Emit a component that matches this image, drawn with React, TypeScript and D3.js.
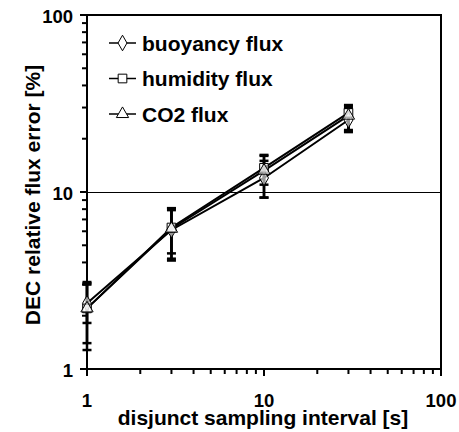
import React, { useEffect, useRef } from 'react';
import * as d3 from 'd3';

// sampling intervals [s]
const intervals = [1, 3, 10, 30];

const seriesNames = ['buoyancy flux', 'humidity flux', 'CO2 flux'];
const buoyancy = [2.35, 6.1, 12.0, 25.5];
const humidity = [2.2, 6.3, 13.7, 28.0];
const co2 = [2.2, 6.2, 13.2, 27.0];

// error bar bounds
const buoyancyLow = [1.82, 4.5, 9.3, 22.4];
const buoyancyHigh = [3.0, 7.9, 15.0, 29.8];
const humidityLow = [1.4, 4.2, 11.0, 21.8];
const humidityHigh = [3.05, 8.1, 16.2, 31.0];
const co2Low = [1.28, 4.1, 9.3, 22.0];
const co2High = [3.1, 8.1, 16.0, 30.5];

const xTicks = [1, 10, 100];
const yTicks = [1, 10, 100];

export default function App() {
  const ref = useRef<SVGSVGElement>(null);

  useEffect(() => {
    if (!ref.current) return;
    const svg = d3.select(ref.current);
    svg.selectAll('*').remove();

    const left = 87, right = 441, top = 15, bottom = 369;
    const x = d3.scaleLog().domain([1, 100]).range([left, right]);
    const y = d3.scaleLog().domain([1, 100]).range([bottom, top]);
    const font = "Arial, 'Liberation Sans', sans-serif";

    const series = [
      { name: seriesNames[0], values: buoyancy, low: buoyancyLow, high: buoyancyHigh, shape: d3.symbolDiamond, size: 70 },
      { name: seriesNames[1], values: humidity, low: humidityLow, high: humidityHigh, shape: d3.symbolSquare, size: 75 },
      { name: seriesNames[2], values: co2, low: co2Low, high: co2High, shape: d3.symbolTriangle, size: 65 },
    ];

    // frame top/right
    svg.append('path')
      .attr('d', `M${left},${top}H${right}V${bottom}`)
      .attr('fill', 'none').attr('stroke', '#000').attr('stroke-width', 2);

    // reference line at 10 %
    svg.append('line')
      .attr('x1', left).attr('x2', right)
      .attr('y1', Math.round(y(10)) + 0.5).attr('y2', Math.round(y(10)) + 0.5)
      .attr('stroke', '#000').attr('stroke-width', 1);

    // axes
    const minor = d3.range(1, 100).filter(v => {
      const e = Math.pow(10, Math.floor(Math.log10(v)));
      return v % e === 0;
    }).concat([100]);
    const gx = svg.append('g').attr('transform', `translate(0,${bottom})`);
    gx.append('line').attr('x1', left - 7).attr('x2', right).attr('stroke', '#000').attr('stroke-width', 2);
    minor.forEach(v => {
      const major = xTicks.includes(v);
      gx.append('line').attr('x1', x(v)).attr('x2', x(v))
        .attr('y1', 0).attr('y2', major ? 7 : 5)
        .attr('stroke', '#000').attr('stroke-width', 2);
    });
    xTicks.forEach(v => {
      gx.append('text').attr('x', x(v)).attr('y', 38)
        .attr('text-anchor', 'middle').attr('font-family', font)
        .attr('font-weight', 'bold').attr('font-size', 18.5).text(String(v));
    });

    const gy = svg.append('g').attr('transform', `translate(${left},0)`);
    gy.append('line').attr('y1', top).attr('y2', bottom + 7).attr('stroke', '#000').attr('stroke-width', 2);
    minor.forEach(v => {
      const major = yTicks.includes(v);
      gy.append('line').attr('y1', y(v)).attr('y2', y(v))
        .attr('x1', 0).attr('x2', major ? -7 : -5)
        .attr('stroke', '#000').attr('stroke-width', 2);
    });
    yTicks.forEach(v => {
      gy.append('text').attr('x', -14).attr('y', y(v) + 8)
        .attr('text-anchor', 'end').attr('font-family', font)
        .attr('font-weight', 'bold').attr('font-size', 18.5).text(String(v));
    });

    // axis titles
    svg.append('text').attr('x', (left + right) / 2 - 1).attr('y', 425)
      .attr('text-anchor', 'middle').attr('font-family', font)
      .attr('font-weight', 'bold').attr('font-size', 21)
      .text('disjunct sampling interval [s]');
    svg.append('text')
      .attr('transform', `translate(40,${(top + bottom) / 2 + 3}) rotate(-90)`)
      .attr('text-anchor', 'middle').attr('font-family', font)
      .attr('font-weight', 'bold').attr('font-size', 21)
      .text('DEC relative flux error [%]');

    const line = d3.line<number>()
      .x((_, i) => x(intervals[i]))
      .y(d => y(d));

    // error bars
    series.forEach(s => {
      intervals.forEach((t, i) => {
        const cx = x(t);
        svg.append('line').attr('x1', cx).attr('x2', cx)
          .attr('y1', y(s.low[i])).attr('y2', y(s.high[i]))
          .attr('stroke', '#000').attr('stroke-width', 2.5);
        [s.low[i], s.high[i]].forEach(v => {
          svg.append('line').attr('x1', cx - 4.5).attr('x2', cx + 4.5)
            .attr('y1', y(v)).attr('y2', y(v))
            .attr('stroke', '#000').attr('stroke-width', 2.5);
        });
      });
    });

    // lines
    series.forEach(s => {
      svg.append('path').datum(s.values).attr('d', line)
        .attr('fill', 'none').attr('stroke', '#000').attr('stroke-width', 2);
    });

    // markers
    series.forEach(s => {
      const sym = d3.symbol().type(s.shape).size(s.size);
      s.values.forEach((v, i) => {
        svg.append('path').attr('d', sym())
          .attr('transform', `translate(${x(intervals[i])},${y(v)})`)
          .attr('fill', '#fff').attr('fill-opacity', 0.6)
          .attr('stroke', '#000').attr('stroke-width', 1);
      });
    });

    // legend
    series.forEach((s, i) => {
      const ly = 43 + i * 35.5;
      svg.append('line').attr('x1', 109).attr('x2', 136).attr('y1', ly).attr('y2', ly)
        .attr('stroke', '#000').attr('stroke-width', 1.5);
      svg.append('path').attr('d', d3.symbol().type(s.shape).size(s.size)())
        .attr('transform', `translate(122.5,${ly})`)
        .attr('fill', '#fff').attr('stroke', '#000').attr('stroke-width', 1);
      svg.append('text').attr('x', 142).attr('y', ly + 7.5)
        .attr('font-family', font).attr('font-weight', 'bold').attr('font-size', 21)
        .text(s.name);
    });
  }, []);

  return (
    <svg ref={ref} width={459} height={432}
      style={{ position: 'absolute', left: 0, top: 0, background: '#fff' }} />
  );
}
